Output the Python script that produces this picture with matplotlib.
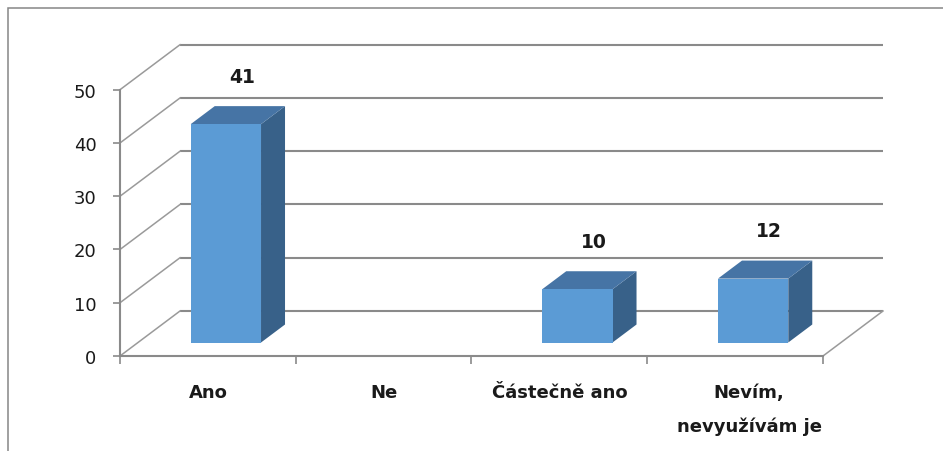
import numpy as np
import matplotlib.pyplot as plt
from matplotlib.patches import Polygon, Rectangle

# Data
categories = ['Ano', 'Ne', 'Částečně ano', 'Nevím,\nnevyužívám je']
values = [41, 0, 10, 12]
yticks = [0, 10, 20, 30, 40, 50]

# Pseudo-3D geometry (in data units)
DX = 60 / 175.75      # depth shift along x (categories)
DY = 45 / 5.326       # depth shift along y (values)
F0, F1 = 0.3, 0.7     # bar front / back depth fraction
BW = 0.4              # bar width

grid_c = '#8a8a8a'
front_c = '#5b9bd5'
top_c = '#4674a5'
side_c = '#386189'

fig = plt.figure(figsize=(9.43, 4.52), dpi=100)
W, H = 943, 452
ax = fig.add_axes([120 / W, 95 / H, 703 / W, 266.3 / H])
ax.set_xlim(0, len(categories))
ax.set_ylim(0, 50)
ax.patch.set_visible(False)

# chart border (only top and left visible)
fig.patches.append(Rectangle((8 / W, -0.2), 1.2, (H - 9) / H + 0.2,
                             transform=fig.transFigure, fill=False,
                             edgecolor='#868686', lw=1.1))

# back wall gridlines and left wall diagonals
n = len(categories)
for v in yticks:
    ax.plot([DX, n + DX], [v + DY, v + DY], color=grid_c, lw=1.5,
            clip_on=False, zorder=1, solid_capstyle='butt')
    ax.plot([0, DX], [v, v + DY], color='#9a9a9a', lw=1.1,
            clip_on=False, zorder=1)
# floor right edge
ax.plot([n, n + DX], [0, DY], color='#9a9a9a', lw=1.1, clip_on=False, zorder=1)

# bars
centers = np.arange(n) + 0.5
for c, v in zip(centers, values):
    if v <= 0:
        continue
    xl, xr = c - BW / 2, c + BW / 2
    top = [(xl + F0 * DX, F0 * DY + v), (xr + F0 * DX, F0 * DY + v),
           (xr + F1 * DX, F1 * DY + v), (xl + F1 * DX, F1 * DY + v)]
    side = [(xr + F0 * DX, F0 * DY), (xr + F1 * DX, F1 * DY),
            (xr + F1 * DX, F1 * DY + v), (xr + F0 * DX, F0 * DY + v)]
    ax.add_patch(Polygon(side, closed=True, facecolor=side_c, edgecolor='none',
                         clip_on=False, zorder=3))
    ax.add_patch(Polygon(top, closed=True, facecolor=top_c, edgecolor='none',
                         clip_on=False, zorder=3))
    ax.bar(c + F0 * DX, v, bottom=F0 * DY, width=BW, color=front_c,
           edgecolor='none', zorder=4, clip_on=False)
    ax.annotate(str(v), (c + 0.57 * DX, 0.5 * DY + v), xytext=(0, 39),
                textcoords='offset pixels', ha='center', va='center',
                fontsize=13.5, fontweight='bold', color='#1a1a1a',
                annotation_clip=False)

# axes styling
for s in ['top', 'right']:
    ax.spines[s].set_visible(False)
for s in ['left', 'bottom']:
    ax.spines[s].set_color(grid_c)
    ax.spines[s].set_linewidth(1.5)
    ax.spines[s].set_zorder(5)

ax.set_yticks(yticks)
ax.tick_params(axis='y', length=5, width=1.2, color=grid_c, pad=12,
               labelsize=13, labelcolor='#1a1a1a')
ax.set_xticks(np.arange(n + 1))
ax.set_xticklabels([])
ax.tick_params(axis='x', length=6, width=1.2, color=grid_c)

# category labels
for c, lab in zip(centers, categories):
    lines = lab.split('\n')
    shift = 0.08 if len(lines) > 1 else 0
    for k, line in enumerate(lines):
        ax.annotate(line, (c + shift, 0), xytext=(0, -36 - 34 * k),
                    textcoords='offset pixels', ha='center', va='center',
                    fontsize=13, fontweight='bold', color='#1a1a1a',
                    annotation_clip=False)

fig.savefig('out.png', dpi=100)
